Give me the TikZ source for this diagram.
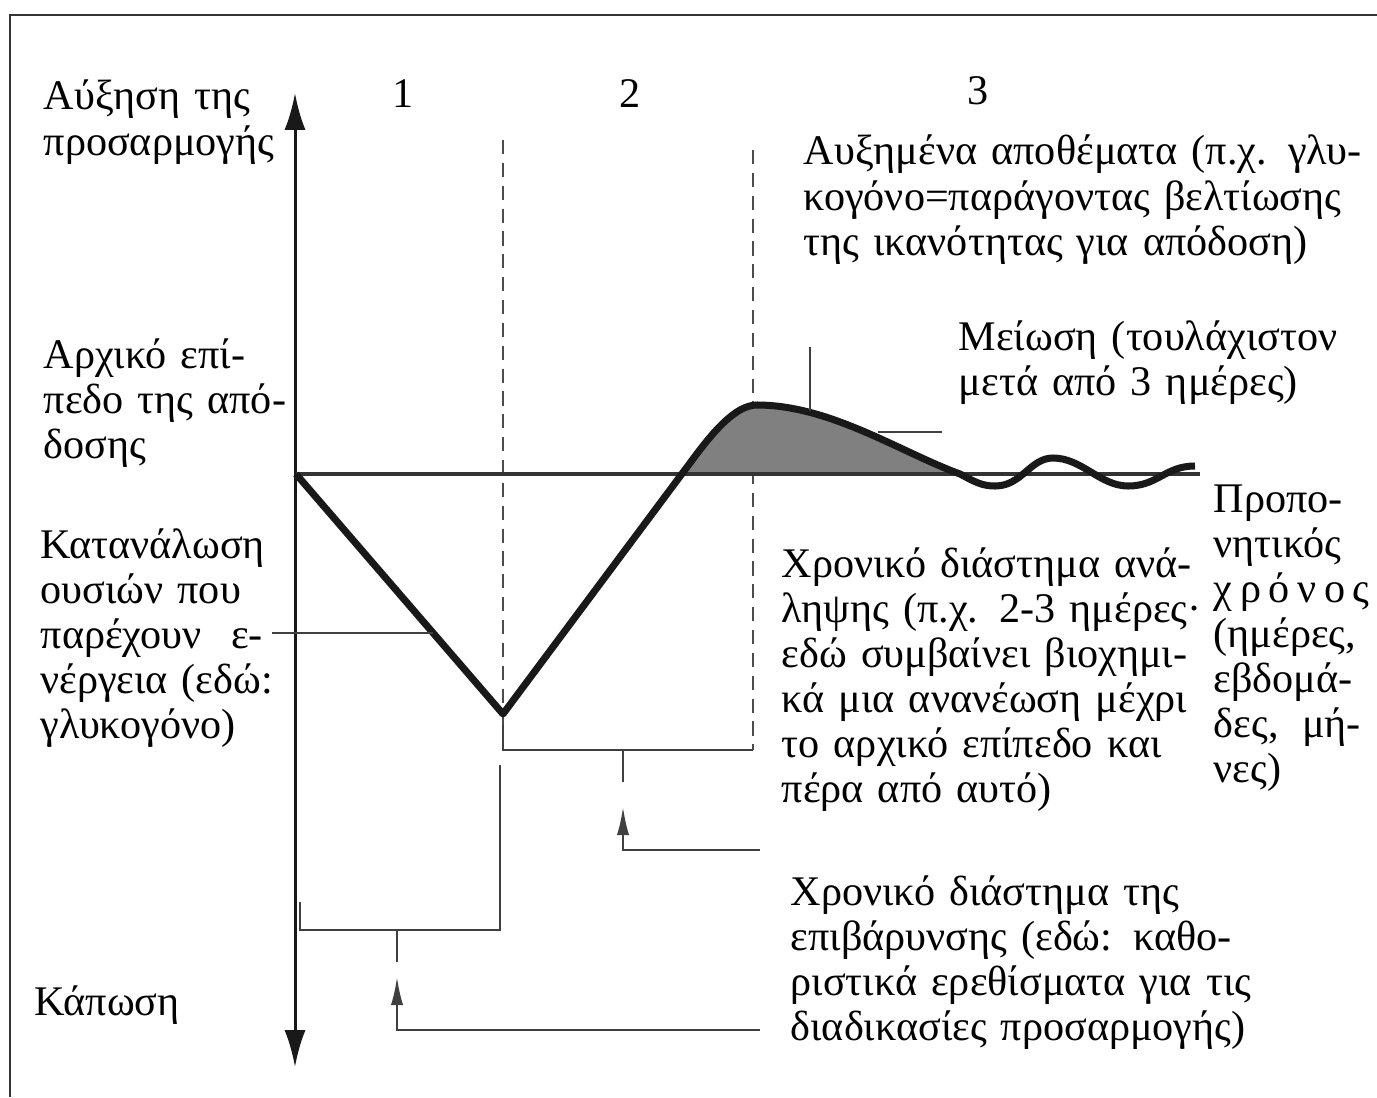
\documentclass[tikz,border=0pt]{standalone}
\usepackage{fontspec}
\setmainfont{Liberation Serif}
\usetikzlibrary{arrows.meta}
\newcommand{\lblfont}{\fontsize{12}{12.8}\selectfont}

\begin{document}
\begin{tikzpicture}[x=0.01cm,y=-0.01cm,
  lbl/.style={anchor=base west,inner sep=0pt,align=left,font=\lblfont},
  num/.style={anchor=base,inner sep=0pt,font=\lblfont},
  frameline/.style={line width=0.85pt,black!80},
  axis/.style={line width=0.85pt,black!90,{Latex[length=10.5pt,width=6pt]}-{Latex[length=10.5pt,width=6pt]}},
  boundary/.style={line width=0.55pt,black!70,dash pattern=on 4pt off 2.5pt},
  level/.style={line width=1.1pt,black!80},
  curve/.style={line width=2pt,black!90,line join=round},
  leader/.style={line width=0.6pt,black!75},
  pointer/.style={leader,-{Latex[length=8pt,width=3.5pt]}}]
\useasboundingbox (0,0) rectangle (1377,1097);
% frame and axis
\draw[frameline] (10,1097) -- (10,15) -- (1377,15);
\coordinate (axbot) at (295,1067);
\coordinate (axtop) at (295,93);
\draw[axis] (axbot) -- (axtop);
% phase boundaries
\coordinate (b1top) at (503,140);
\coordinate (b1bot) at (503,725);
\coordinate (b2top) at (753,150);
\coordinate (b2bot) at (753,750);
\draw[boundary] (b1top) -- (b1bot);
\draw[boundary] (b2top) -- (b2bot);
% performance curve
\coordinate (start) at (296,474);
\coordinate (trough) at (503,714);
\coordinate (cross) at (682,474);
\coordinate (peak) at (757,405);
\coordinate (settle) at (960,474);
\coordinate (tail) at (1195,466);
\coordinate (level) at (1200,474);
\fill[black!50] (cross) -- (690,463) .. controls (712,433) and (735,405) .. (peak)
  .. controls (830,405) and (900,452) .. (settle) -- cycle;
\draw[level] (start) -- (level);
\draw[curve] (start) -- (trough) -- (690,463) .. controls (712,433) and (735,405) .. (peak)
  .. controls (830,405) and (900,452) .. (settle)
  .. controls (975,482) and (982,486) .. (995,486)
  .. controls (1022,486) and (1030,458) .. (1053,458)
  .. controls (1082,458) and (1100,486) .. (1128,486)
  .. controls (1158,486) and (1165,466) .. (tail);
% labels
\node[num] (phase1) at (403,107) {1};
\node[num] (phase2) at (630,107) {2};
\node[num] (phase3) at (978,105) {3};
\node[lbl,text width=3cm] (gain) at (43,110) {Αύξηση της\\προσαρμογής};
\node[lbl,text width=3cm] (initlevel) at (43,368) {Αρχικό επί-\\πεδο της από-\\δοσης};
\node[lbl,text width=3cm] (consumption) at (40,558)
  {Κατανάλωση\\ουσιών που\\\makebox[2.22cm][l]{παρέχουν\hfill ε-}\\νέργεια (εδώ:\\γλυκογόνο)};
\node[lbl] (fatigue) at (34,1015) {Κάπωση};
\node[lbl,text width=6cm] (stores) at (803,165)
  {Αυξημένα αποθέματα (π.χ. γλυ-\\κογόνο=παράγοντας βελτίωσης\\της ικανότητας για απόδοση)};
\node[lbl,text width=4.5cm] (decline) at (958,350)
  {Μείωση (τουλάχιστον\\μετά από 3 ημέρες)};
\node[lbl,text width=1.8cm] (trainingtime) at (1213,512)
  {Προπο-\\νητικός\\{\addfontfeature{LetterSpace=18}χρόνος}\\(ημέρες,\\εβδομά-\\\makebox[1.47cm][l]{δες,\hfill μή-}\\νες)};
\node[lbl,text width=5cm] (recovery) at (781,577)
  {Χρονικό διάστημα ανά-\\ληψης (π.χ. 2-3 ημέρες·\\εδώ συμβαίνει βιοχημι-\\κά μια ανανέωση μέχρι\\το αρχικό επίπεδο και\\πέρα από αυτό)};
\node[lbl,text width=6cm] (overload) at (790,905)
  {Χρονικό διάστημα της\\επιβάρυνσης (εδώ: καθο-\\ριστικά ερεθίσματα για τις\\διαδικασίες προσαρμογής)};
% leaders
\coordinate (drainstart) at (272,633);
\coordinate (drain) at (433,633);
\draw[leader] (drainstart) -- (drain);
\coordinate (declinetop) at (810,347);
\coordinate (declinefoot) at (810,411);
\coordinate (declineleft) at (878,432);
\coordinate (declineright) at (942,432);
\draw[leader] (declinetop) -- (declinefoot);
\draw[leader] (declineleft) -- (declineright);
% recovery bracket
\coordinate (recovcorner) at (503,750);
\coordinate (recovmid) at (623,750);
\coordinate (recovstem) at (623,782);
\coordinate (recovtip) at (623,807);
\coordinate (recovbend) at (623,850);
\coordinate (recovend) at (760,850);
\draw[leader] (b1bot) -- (recovcorner) -- (b2bot);
\draw[leader] (recovmid) -- (recovstem);
\draw[pointer] (recovend) -- (recovbend) -- (recovtip);
% overload bracket
\coordinate (loadtop) at (300,902);
\coordinate (loadleft) at (300,930);
\coordinate (loadright) at (500,930);
\coordinate (loadup) at (500,765);
\coordinate (loadmid) at (397,930);
\coordinate (loadstem) at (397,962);
\coordinate (loadtip) at (397,977);
\coordinate (loadbend) at (397,1030);
\coordinate (loadend) at (760,1030);
\draw[leader] (loadtop) -- (loadleft) -- (loadright) -- (loadup);
\draw[leader] (loadmid) -- (loadstem);
\draw[pointer] (loadend) -- (loadbend) -- (loadtip);
\end{tikzpicture}
\end{document}
